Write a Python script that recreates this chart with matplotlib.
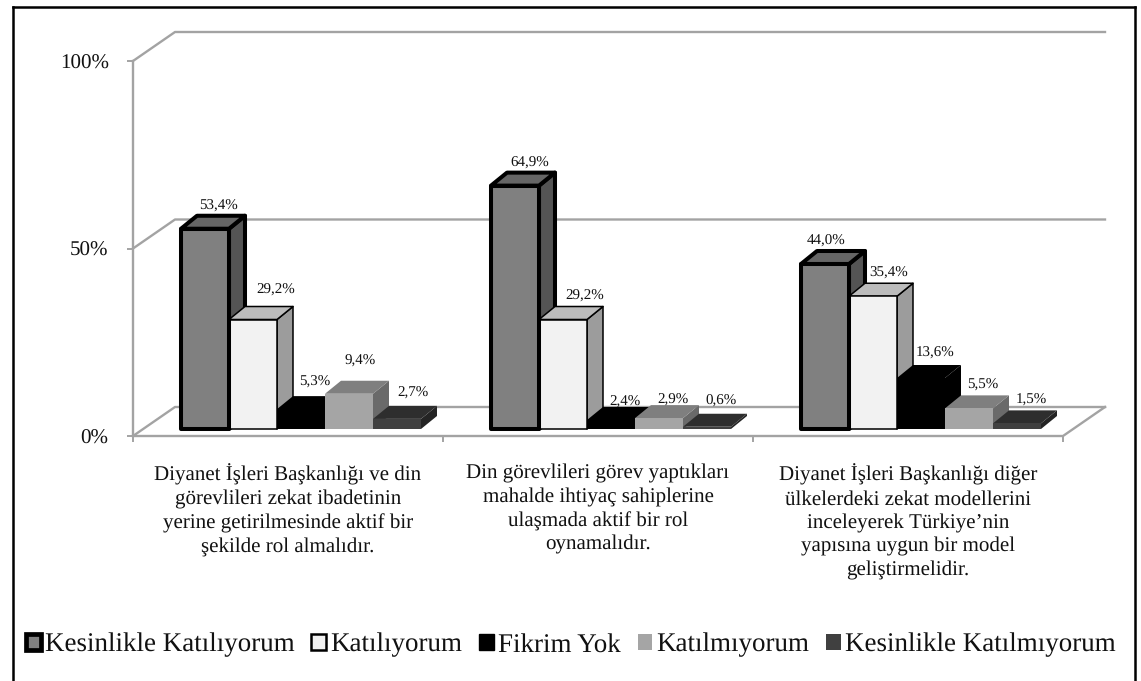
import matplotlib
matplotlib.use("Agg")
from matplotlib import pyplot as plt
from matplotlib.lines import Line2D
from matplotlib.patches import Patch, Polygon

plt.rcParams['font.family'] = ['Liberation Serif', 'DejaVu Serif']
plt.rcParams['text.hinting'] = 'no_hinting'
plt.rcParams['text.hinting_factor'] = 1

# data
categories = ["Diyanet İşleri Başkanlığı ve din\ngörevlileri zekat ibadetinin\nyerine getirilmesinde aktif bir\nşekilde rol almalıdır.",
              "Din görevlileri görev yaptıkları\nmahalde ihtiyaç sahiplerine\nulaşmada aktif bir rol\noynamalıdır.",
              "Diyanet İşleri Başkanlığı diğer\nülkelerdeki zekat modellerini\ninceleyerek Türkiye’nin\nyapısına uygun bir model\ngeliştirmelidir."]
series_names = ["Kesinlikle Katılıyorum", "Katılıyorum", "Fikrim Yok", "Katılmıyorum", "Kesinlikle Katılmıyorum"]
kesinlikle_katiliyorum = [53.4, 64.9, 44.0]
katiliyorum = [29.2, 29.2, 35.4]
fikrim_yok = [5.3, 2.4, 13.6]
katilmiyorum = [9.4, 2.9, 5.5]
kesinlikle_katilmiyorum = [2.7, 0.6, 1.5]
series_values = [kesinlikle_katiliyorum, katiliyorum, fikrim_yok, katilmiyorum, kesinlikle_katilmiyorum]
y_ticks = [0, 50, 100]
y_tick_labels = ["0%", "50%", "100%"]

# styles
front_cols = ["#808080", "#f2f2f2", "#000000", "#a5a5a5", "#404040"]
top_cols = ["#666666", "#bcbcbc", "#000000", "#7f7f7f", "#2e2e2e"]
side_cols = ["#545454", "#9c9c9c", "#000000", "#6a6a6a", "#242424"]
edge_cols = ["#000000", "#000000", "#000000", "none", "none"]
edge_widths = [2.9, 1.1, 0, 0, 0]
grid_col = "#a3a3a3"

# pixel sizes turned into data units
W, H = 1141, 681
LEFT, RIGHT, TOP, BASE = 133, 1063, 61, 436
px_x = 3 / (RIGHT - LEFT)
px_y = 100 / (BASE - TOP)
wall_dx, wall_dy = 42 * px_x, 29 * px_y
bar_dx, bar_dy = 16 * px_x, 13 * px_y
floor_y = -7 * px_y
bar_w = 48 * px_x
bar_start = 48 * px_x

# hand placed labels, px from the bar front top left corner
label_off = [[(37, 23), (47, 29), (38, 27), (35, 33), (40, 26)],
             [(39, 23), (46, 23), (38, 18), (38, 18), (38, 26)],
             [(25, 23), (40, 23), (38, 25), (38, 23), (38, 23)]]

fig = plt.figure(figsize=(W / 100, H / 100), dpi=100)
ax = fig.add_axes([LEFT / W, 1 - BASE / H, (RIGHT - LEFT) / W, (BASE - TOP) / H])
ax.set_xlim(0, 3)
ax.set_ylim(0, 100)
for s in ax.spines.values():
    s.set_visible(False)

# walls and floor
for t in y_ticks:
    ax.plot([0, wall_dx, 3 + wall_dx], [t, t + wall_dy, t + wall_dy], color=grid_col, lw=1.7, clip_on=False, zorder=1)
ax.plot([0, 0], [0, 100], color=grid_col, lw=1.7, clip_on=False, zorder=1)
ax.plot([0, 3, 3 + wall_dx], [0, 0, wall_dy], color=grid_col, lw=1.7, clip_on=False, zorder=1)

# bars, painted left to right like the original
z = 2
for c in range(len(categories)):
    for i, vals in enumerate(series_values):
        v = vals[c]
        x0 = c + bar_start + i * bar_w
        x1 = x0 + bar_w
        y0 = -floor_y
        y1 = y0 + v
        side = [(x1, y0), (x1 + bar_dx, y0 + bar_dy), (x1 + bar_dx, y1 + bar_dy), (x1, y1)]
        top = [(x0, y1), (x1, y1), (x1 + bar_dx, y1 + bar_dy), (x0 + bar_dx, y1 + bar_dy)]
        front = [(x0, y0), (x1, y0), (x1, y1), (x0, y1)]
        for pts, col in [(side, side_cols[i]), (top, top_cols[i]), (front, front_cols[i])]:
            # front of the first bar stays over its neighbour
            zz = z + 20 if (i == 0 and pts is front) else z
            ax.add_patch(Polygon(pts, closed=True, facecolor=col, edgecolor=edge_cols[i],
                                 linewidth=edge_widths[i], joinstyle="round", clip_on=False, zorder=zz))
            z += 1
        dx, dy = label_off[c][i]
        ax.annotate(f"{v:.1f}%".replace(".", ","), xy=(x0, y1), xytext=(dx * 0.72, dy * 0.72),
                    textcoords="offset points", ha="center", va="center", fontsize=11, color="#111111",
                    annotation_clip=False, zorder=500)

# ticks
ax.set_yticks(y_ticks)
ax.set_yticklabels(y_tick_labels, fontsize=14.8, color="#111111")
ax.set_xticks([0, 1, 2, 3])
ax.set_xticklabels([])
ax.set_xticks([0.5, 1.5, 2.5], minor=True)
ax.set_xticklabels(categories, minor=True, fontsize=15.1, color="#111111", linespacing=1.32)
ax.tick_params(axis="y", length=4.5, width=1.4, color=grid_col, pad=13)
ax.tick_params(axis="x", which="major", length=4.5, width=1.4, color=grid_col)
ax.tick_params(axis="x", which="minor", length=0, pad=20)

# legend
handles = [Patch(facecolor=front_cols[i], edgecolor="#000000", linewidth=[3.4, 1.8, 1, 0, 0][i])
           for i in range(5)]
leg = fig.legend(handles, series_names, loc="center", bbox_to_anchor=(571 / W, 1 - 645 / H), ncol=5, frameon=False,
                 fontsize=19.2, handlelength=0.56, handleheight=0.56, handletextpad=0.16, columnspacing=0.62,
                 borderpad=0, borderaxespad=0, labelcolor="#111111")
leg.get_texts()[2].set_y(-1)  # no descender in this label, it sits too high otherwise

# outer frame, open at the bottom
for xs, ys in [([13, 13], [7, H]), ([13, 1135], [7, 7]), ([1135, 1135], [7, H])]:
    fig.add_artist(Line2D([x / W for x in xs], [1 - y / H for y in ys], color="#000000", lw=1.8))

fig.savefig("out.png", dpi=100)
